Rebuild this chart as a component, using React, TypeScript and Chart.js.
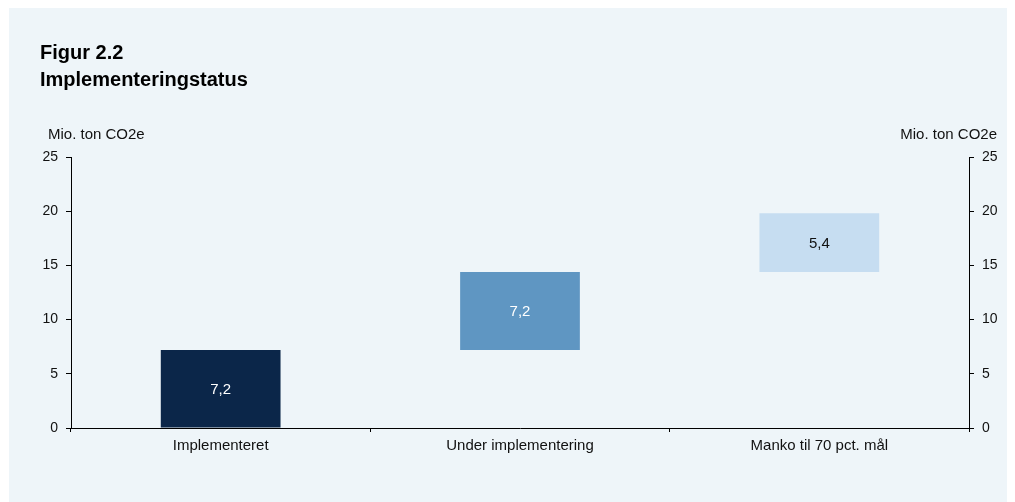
import React, { useEffect, useRef } from "react";
import { Chart, registerables } from "chart.js";

Chart.register(...registerables);

const categories = ["Implementeret", "Under implementering", "Manko til 70 pct. mål"];
const values = [7.2, 7.2, 5.4];
const valueLabels = ["7,2", "7,2", "5,4"];
const barColors = ["#0B2649", "#5F96C2", "#C6DDF1"];
const labelColors = ["#FFFFFF", "#FFFFFF", "#111111"];
const yTicks = [0, 5, 10, 15, 20, 25];
const titleLines = ["Figur 2.2", "Implementeringstatus"];
const unitLabel = "Mio. ton CO2e";

const FONT = '"Liberation Sans", Arial, sans-serif';
const W = 1006;
const H = 494;

export default function App() {
  const ref = useRef<HTMLCanvasElement | null>(null);

  useEffect(() => {
    if (!ref.current) return;
    let acc = 0;
    const floating = values.map((v) => {
      const pair = [acc, acc + v];
      acc += v;
      return pair;
    });

    const overlay = {
      id: "overlay",
      afterDatasetsDraw(chart: any) {
        const ctx = chart.ctx;
        ctx.save();
        ctx.fillStyle = "#000000";
        ctx.textAlign = "left";
        ctx.textBaseline = "alphabetic";
        ctx.font = `bold 20px ${FONT}`;
        ctx.fillText(titleLines[0], 31, 51);
        ctx.fillText(titleLines[1], 31, 78);
        ctx.font = `15px ${FONT}`;
        ctx.fillStyle = "#111111";
        ctx.fillText(unitLabel, 39, 131);
        ctx.textAlign = "right";
        ctx.fillText(unitLabel, 988, 131);
        const meta = chart.getDatasetMeta(0);
        ctx.textAlign = "center";
        ctx.textBaseline = "middle";
        meta.data.forEach((bar: any, i: number) => {
          ctx.fillStyle = labelColors[i];
          ctx.fillText(valueLabels[i], bar.x, (bar.y + bar.base) / 2 + 1);
        });
        ctx.restore();
      },
    };

    const axisCommon = {
      min: 0,
      max: 25,
      afterBuildTicks: (s: any) => {
        s.ticks = yTicks.map((v) => ({ value: v }));
      },
      grid: {
        drawOnChartArea: false,
        drawTicks: true,
        tickLength: 5,
        color: "#000000",
      },
      border: { display: true, color: "#000000", width: 1 },
      ticks: {
        color: "#111111",
        font: { family: FONT, size: 14 },
        padding: 8,
      },
    };

    const chart = new Chart(ref.current, {
      type: "bar",
      data: {
        labels: categories,
        datasets: [
          {
            data: floating as any,
            backgroundColor: barColors,
            borderWidth: 0,
            barPercentage: 0.4,
            categoryPercentage: 1,
            yAxisID: "y",
          },
        ],
      },
      options: {
        responsive: false,
        animation: false,
        devicePixelRatio: 1,
        layout: { padding: { top: 149, left: 0, right: 0, bottom: 0 } },
        plugins: {
          legend: { display: false },
          tooltip: { enabled: false },
          title: { display: false },
        },
        scales: {
          x: {
            grid: {
              offset: true,
              drawOnChartArea: false,
              drawTicks: true,
              tickLength: 4,
              color: "#000000",
            },
            border: { display: true, color: "#000000", width: 1 },
            ticks: {
              color: "#111111",
              font: { family: FONT, size: 15 },
              padding: 5,
              maxRotation: 0,
            },
            afterFit: (s: any) => {
              s.height = 74;
            },
          },
          y: {
            ...axisCommon,
            position: "left",
            afterFit: (s: any) => {
              s.width = 62;
            },
          } as any,
          y2: {
            ...axisCommon,
            position: "right",
            display: true,
            afterFit: (s: any) => {
              s.width = 46;
            },
          } as any,
        },
      },
      plugins: [overlay],
    });
    return () => chart.destroy();
  }, []);

  return (
    <div
      style={{
        marginLeft: 1,
        width: W,
        height: H,
        background: "#EEF5F9",
      }}
    >
      <canvas ref={ref} width={W} height={H} style={{ display: "block" }} />
    </div>
  );
}
